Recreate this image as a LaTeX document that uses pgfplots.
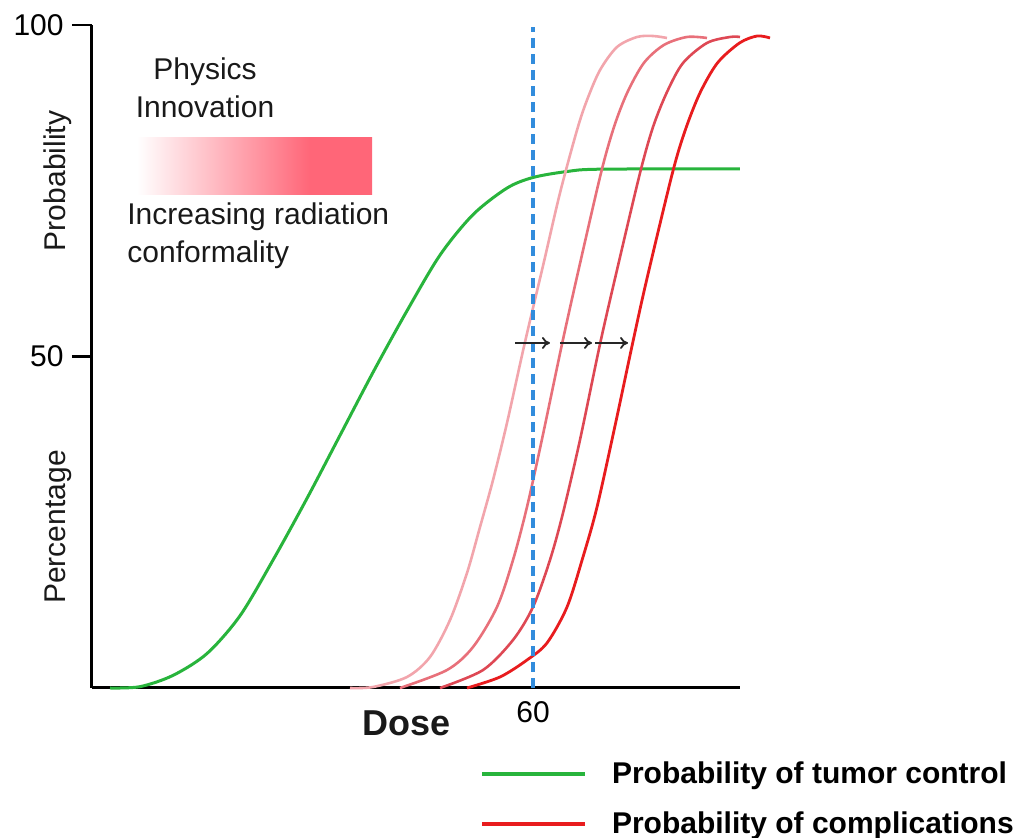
\documentclass[border=0pt]{standalone}
\usepackage{fontspec}
\setmainfont{Liberation Sans}
\usepackage{pgfplots}
\pgfplotsset{compat=1.18}
\usetikzlibrary{arrows.meta}
\definecolor{tumorgreen}{RGB}{40,180,60}
\definecolor{compA}{RGB}{242,165,172}
\definecolor{compB}{RGB}{232,112,122}
\definecolor{compC}{RGB}{222,72,84}
\definecolor{compD}{RGB}{232,28,30}
\definecolor{doseblue}{RGB}{50,140,220}
\definecolor{boxred}{RGB}{255,102,120}
\pgfdeclarehorizontalshading{boxshade}{100bp}{color(0bp)=(white); color(25bp)=(white); color(61.8bp)=(boxred); color(75bp)=(boxred); color(100bp)=(boxred)}
\begin{document}
\begin{tikzpicture}
\path[use as bounding box] (0pt,0pt) rectangle (508.5pt,419pt);
\begin{axis}[
  at={(46pt,75pt)}, anchor=origin,
  scale only axis, width=324pt, height=331.5pt,
  xmin=0, xmax=88.16, ymin=0, ymax=100,
  axis x line=bottom, axis y line=left,
  axis line style={-, line width=1.5pt, black},
  xtick={60}, xticklabels={60},
  ytick={50,100}, yticklabels={50,100},
  x tick style={draw=none},
  y tick style={line width=1.3pt, black},
  tick align=outside, major tick length=10pt,
  /pgf/number format/assume math mode=true,
  tick label style={font=\fontsize{15}{18}\selectfont},
  yticklabel style={inner sep=4pt},
  xticklabel style={yshift=7pt},
  clip=false,
  legend cell align=left,
  legend style={draw=none, fill=none, inner sep=0pt, outer sep=0pt,
    at={(axis description cs:0.5988,-0.1115)}, anchor=north west,
    font=\fontsize{15}{18}\selectfont\bfseries,
    row sep=12.5pt, column sep=12.5pt,
    nodes={inner sep=0pt}},
  legend image code/.code={\draw[#1, line width=2pt] (0pt,0pt) -- (51.5pt,0pt);},
]
% decorative gradient box
\shade[shading=boxshade] (axis cs:6.12,74.4) rectangle (axis cs:38.10,82.96);

\addplot[tumorgreen, line width=1.5pt, smooth] coordinates {
(2.45,0) (6.53,0.2) (11.02,1.9) (15.65,5.2) (20.14,10.9) (24.63,19.3)
(29.25,28.6) (33.74,38.1) (38.23,47.6) (42.86,56.9) (47.35,65.3)
(51.84,71.4) (56.46,75.4) (60.00,77.0) (64.63,77.9) (69.12,78.25)
(88.16,78.3)};
\addlegendentry{Probability of tumor control}

\addplot[compA, line width=1.3pt, smooth, forget plot] coordinates {
(35.10,0) (38.23,0.15) (42.86,1.66) (45.99,4.68) (48.71,10.26) (51.02,17.35)
(52.79,24.28) (54.56,31.37) (56.46,39.97) (58.85,51.89) (61.45,64.10)
(63.67,74.66) (65.99,84.16) (67.35,88.69) (69.12,93.21) (71.43,96.68)
(74.15,98.19) (76.33,98.34) (78.23,98.04)};

\addplot[compB, line width=1.3pt, smooth, forget plot] coordinates {
(41.90,0) (48.30,2.71) (51.84,6.18) (55.10,12.22) (57.28,19.31) (59.18,27.30)
(61.20,37.41) (63.95,51.89) (66.10,62.59) (69.25,77.68) (71.02,84.62)
(72.80,89.74) (75.08,94.27) (77.80,96.98) (80.95,98.19) (83.67,98.04)};

\addplot[compC, line width=1.3pt, smooth, forget plot] coordinates {
(47.35,0) (53.20,2.71) (57.28,7.24) (60.00,12.22) (62.31,19.31) (64.08,26.40)
(66.39,37.41) (69.12,51.89) (71.33,62.59) (74.56,77.68) (76.33,84.62)
(78.23,89.89) (80.41,94.27) (83.67,97.29) (86.80,98.19) (88.16,98.19)};

\addplot[compD, line width=1.4pt, smooth] coordinates {
(51.02,0) (55.51,1.66) (59.18,4.22) (61.90,6.79) (64.63,12.22) (66.80,19.76)
(68.71,27.30) (71.24,39.97) (73.53,51.89) (75.46,61.54) (78.97,77.68)
(80.72,84.16) (82.71,89.74) (85.09,94.27) (88.10,97.29) (90.50,98.34)
(92.24,98.04)};
\addlegendentry{Probability of complications}

\addplot[doseblue, line width=2pt, dash pattern=on 5pt off 3pt, forget plot] coordinates {(60,0) (60,99.7)};

% shift arrows
\draw[-{To[length=4pt,width=6pt]}, line width=0.9pt, black!85] (axis cs:57.55,52.04) -- (axis cs:62.31,52.04);
\draw[-{To[length=4pt,width=6pt]}, line width=0.9pt, black!85] (axis cs:63.67,52.04) -- (axis cs:68.03,52.04);
\draw[-{To[length=4pt,width=6pt]}, line width=0.9pt, black!85] (axis cs:68.44,52.04) -- (axis cs:72.93,52.04);
\end{axis}
\begin{scope}[every node/.style={font=\fontsize{15}{18}\selectfont, text=black!90}]
\node at (102.5pt,383pt) {Physics};
\node at (102.5pt,365.5pt) {Innovation};
\node[anchor=west, inner sep=0pt] at (63.5pt,310.5pt) {Increasing radiation};
\node[anchor=west, inner sep=0pt] at (63.5pt,291.5pt) {conformality};
\node[rotate=90] at (29pt,328.5pt) {Probability};
\node[rotate=90] at (29pt,155.5pt) {Percentage};
\node[font=\fontsize{18}{21}\selectfont\bfseries] at (203.5pt,57.5pt) {Dose};
\end{scope}
\end{tikzpicture}
\end{document}
